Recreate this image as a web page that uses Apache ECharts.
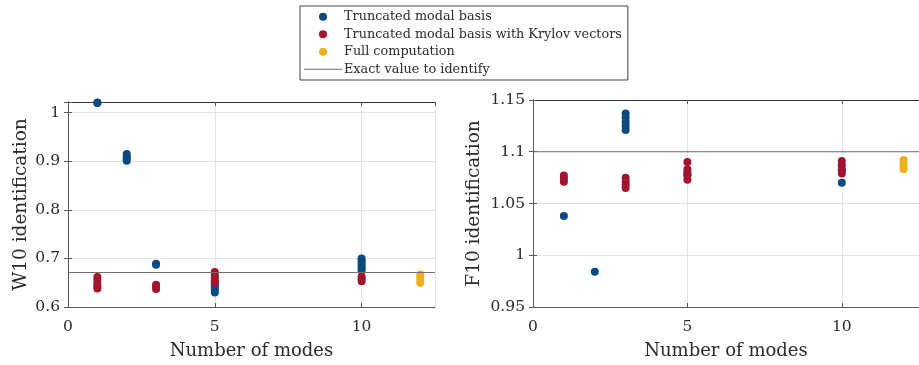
<!DOCTYPE html>
<html>
<head>
<meta charset="utf-8">
<script src="https://cdn.jsdelivr.net/npm/echarts@6/dist/echarts.min.js"></script>
<style>
  html, body { margin: 0; padding: 0; background: #fff; }
  #chart { width: 919px; height: 365px; }
</style>
</head>
<body>
<div id="chart"></div>
<script>
// Identified W10 values per number of modes (left panel)
const w10Modal = [
  [1, 1.020], [1, 1.021],
  [2, 0.901], [2, 0.905], [2, 0.910], [2, 0.915],
  [3, 0.687], [3, 0.689],
  [5, 0.630], [5, 0.635], [5, 0.640], [5, 0.645], [5, 0.650],
  [10, 0.675], [10, 0.680], [10, 0.685], [10, 0.690], [10, 0.695], [10, 0.700]
];
const w10Krylov = [
  [1, 0.638], [1, 0.642], [1, 0.648], [1, 0.655], [1, 0.662],
  [3, 0.637], [3, 0.642], [3, 0.646],
  [5, 0.650], [5, 0.655], [5, 0.660], [5, 0.666], [5, 0.672],
  [10, 0.653], [10, 0.658], [10, 0.663]
];
const w10Full = [[12, 0.650], [12, 0.655], [12, 0.661], [12, 0.667]];
const w10Exact = 0.671;

// Identified F10 values per number of modes (right panel)
const f10Modal = [
  [1, 1.038],
  [2, 0.984],
  [3, 1.121], [3, 1.125], [3, 1.129], [3, 1.133], [3, 1.137],
  [5, 1.078],
  [10, 1.070], [10, 1.082]
];
const f10Krylov = [
  [1, 1.071], [1, 1.074], [1, 1.077],
  [3, 1.065], [3, 1.068], [3, 1.071], [3, 1.075],
  [5, 1.073], [5, 1.077], [5, 1.080], [5, 1.083], [5, 1.090],
  [10, 1.079], [10, 1.083], [10, 1.087], [10, 1.091]
];
const f10Full = [[12, 1.083], [12, 1.086], [12, 1.089], [12, 1.092]];
const f10Exact = 1.10;

const xTicks = [0, 5, 10];
const w10Ticks = [0.6, 0.7, 0.8, 0.9, 1];
const f10Ticks = [0.95, 1, 1.05, 1.1, 1.15];

const names = [
  'Truncated modal basis',
  'Truncated modal basis with Krylov vectors',
  'Full computation',
  'Exact value to identify'
];
const colors = ['#0b4a7e', '#a2142f', '#edb120', '#6e6e6e'];

const FONT = 'DejaVu Serif';
const TXT = '#2b2b2b';
const AX = '#5a5a5a';
const GRIDC = '#e3e3e3';

function xAxisMain(gi) {
  return {
    type: 'value', gridIndex: gi, min: 0, max: 12.5, interval: 5,
    name: 'Number of modes', nameLocation: 'middle', nameGap: 35,
    nameTextStyle: { fontFamily: FONT, fontSize: 18, color: TXT },
    axisLine: { show: true, lineStyle: { color: AX, width: 1 } },
    axisTick: { show: true, inside: true, length: 4, lineStyle: { color: AX } },
    axisLabel: { fontFamily: FONT, fontSize: 15.5, color: TXT, margin: 12,
      showMaxLabel: false,
      formatter: v => xTicks.includes(v) ? String(v) : '' },
    splitLine: { show: true, lineStyle: { color: GRIDC, width: 1 } }
  };
}
function xAxisTop(gi) {
  return {
    type: 'value', gridIndex: gi, position: 'top', min: 0, max: 12.5, interval: 5,
    axisLine: { show: true, lineStyle: { color: '#333', width: 1 } },
    axisTick: { show: true, inside: true, length: 4, lineStyle: { color: AX } },
    axisLabel: { show: false }, splitLine: { show: false }
  };
}
function yAxisMain(gi, name, min, max, interval, ticks, gap) {
  return {
    type: 'value', gridIndex: gi, min: min, max: max, interval: interval,
    name: name, nameLocation: 'middle', nameGap: gap,
    nameTextStyle: { fontFamily: FONT, fontSize: 18.5, color: TXT },
    axisLine: { show: true, lineStyle: { color: AX, width: 1 } },
    axisTick: { show: true, inside: true, length: 4, lineStyle: { color: AX } },
    axisLabel: { fontFamily: FONT, fontSize: 15.5, color: TXT, margin: 8,
      formatter: v => {
        const t = ticks.find(k => Math.abs(k - v) < 1e-6);
        return t === undefined ? '' : String(t);
      } },
    splitLine: { show: true, lineStyle: { color: GRIDC, width: 1 } }
  };
}
function yAxisRight(gi, min, max, interval) {
  return {
    type: 'value', gridIndex: gi, position: 'right', min: min, max: max, interval: interval,
    axisLine: { show: true, lineStyle: { color: AX, width: 1 } },
    axisTick: { show: true, inside: true, length: 4, lineStyle: { color: AX } },
    axisLabel: { show: false }, splitLine: { show: false }
  };
}

function scatter(name, data, color, xi, yi) {
  return {
    name: name, type: 'scatter', xAxisIndex: xi, yAxisIndex: yi,
    data: data, symbol: 'circle', symbolSize: 8,
    itemStyle: { color: color, opacity: 1 },
    emphasis: { disabled: true }, animation: false
  };
}
function exactLine(value, xi, yi) {
  return {
    name: names[3], type: 'line', xAxisIndex: xi, yAxisIndex: yi,
    data: [[0, value], [12.5, value]], symbol: 'none', showSymbol: false,
    lineStyle: { color: colors[3], width: 1 }, itemStyle: { color: colors[3] },
    z: 5, animation: false
  };
}

const chart = echarts.init(document.getElementById('chart'), null, { renderer: 'canvas' });
chart.setOption({
  backgroundColor: '#fff',
  animation: false,
  legend: {
    orient: 'vertical', left: 300, top: 6,
    padding: [4, 6, 4, 4],
    itemWidth: 38, itemHeight: 8, itemGap: 4,
    borderColor: '#444', borderWidth: 1,
    backgroundColor: '#fff',
    textStyle: { fontFamily: FONT, fontSize: 12.8, color: TXT, lineHeight: 13.5, padding: [0, 0, 0, -3] },
    data: [
      { name: names[0], icon: 'circle' },
      { name: names[1], icon: 'circle' },
      { name: names[2], icon: 'circle' },
      { name: names[3], icon: 'path://M0,0H38V1H0Z', itemStyle: { color: colors[3] } }
    ]
  },
  grid: [
    { left: 68, right: 484, top: 102, bottom: 56, containLabel: false },
    { left: 533, right: -8, top: 100, bottom: 55, containLabel: false }
  ],
  xAxis: [xAxisMain(0), xAxisTop(0), xAxisMain(1), xAxisTop(1)],
  yAxis: [
    yAxisMain(0, 'W10 identification', 0.6, 1.022, 0.1, w10Ticks, 37),
    yAxisRight(0, 0.6, 1.022, 0.1),
    yAxisMain(1, 'F10 identification', 0.95, 1.15, 0.05, f10Ticks, 49),
    yAxisRight(1, 0.95, 1.15, 0.05)
  ],
  series: [
    scatter(names[0], w10Modal, colors[0], 0, 0),
    scatter(names[1], w10Krylov, colors[1], 0, 0),
    scatter(names[2], w10Full, colors[2], 0, 0),
    exactLine(w10Exact, 0, 0),
    scatter(names[0], f10Modal, colors[0], 2, 2),
    scatter(names[1], f10Krylov, colors[1], 2, 2),
    scatter(names[2], f10Full, colors[2], 2, 2),
    exactLine(f10Exact, 2, 2)
  ]
});
</script>
</body>
</html>
